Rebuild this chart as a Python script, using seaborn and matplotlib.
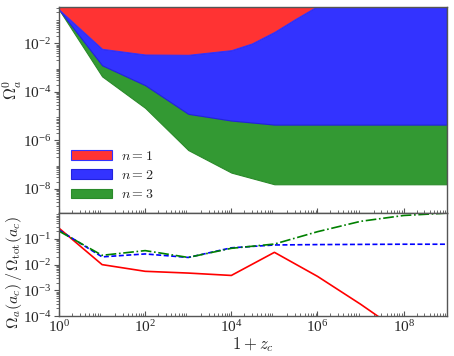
import numpy as np
import pandas as pd
import matplotlib
matplotlib.use("Agg")
import matplotlib.pyplot as plt
import seaborn as sns

# ---- data ----
zc1 = [1, 10, 100, 1e3, 1e4, 3e4, 1e5, 3e5, 1e6, 1e7, 1e8, 1e9]
omega_n1 = [0.25, 6e-3, 3.5e-3, 3.4e-3, 5.3e-3, 1.0e-2, 3.0e-2, 1.0e-1, 0.35, 2.0, 5.0, 10.0]

zc_top = [1, 10, 100, 1e3, 1e4, 1e5, 1e6, 1e7, 1e8, 1e9]
omega_n2 = [0.25, 1.26e-3, 1.9e-4, 1.25e-5, 6.6e-6, 4.5e-6, 4.5e-6, 4.5e-6, 4.5e-6, 4.5e-6]
omega_n3 = [0.25, 4.4e-4, 2.2e-5, 4.0e-7, 4.7e-8, 1.55e-8, 1.55e-8, 1.55e-8, 1.55e-8, 1.55e-8]

zc_bot = [1, 10, 100, 1e3, 1e4, 1e5, 1e6, 1e7, 1e8, 1e9]
frac_n1 = [0.26, 1.0e-2, 5.5e-3, 4.7e-3, 3.8e-3, 3.0e-2, 3.5e-3, 2.9e-4, 2.0e-5, 1.5e-6]
frac_n2 = [0.22, 2.0e-2, 2.6e-2, 1.9e-2, 4.5e-2, 5.8e-2, 6.0e-2, 6.1e-2, 6.2e-2, 6.2e-2]
frac_n3 = [0.20, 2.3e-2, 3.5e-2, 1.9e-2, 4.3e-2, 6.3e-2, 0.19, 0.48, 0.81, 1.0]

labels = [r"$n=1$", r"$n=2$", r"$n=3$"]
fill_colors = ["#ff3333", "#3333ff", "#339933"]
line_colors = ["#ff0000", "#0000ff", "#008000"]

# ---- style ----
sns.set_theme(style="ticks")
plt.rcParams["font.family"] = ["Liberation Serif", "DejaVu Serif"]
plt.rcParams["mathtext.fontset"] = "stix"
plt.rcParams["axes.edgecolor"] = "#555555"
plt.rcParams["axes.linewidth"] = 1.0

fig = plt.figure(figsize=(4.54, 3.56), dpi=100)
gs = fig.add_gridspec(2, 1, height_ratios=[2, 1], hspace=0,
                      left=0.130, right=0.984, top=0.980, bottom=0.112)
ax1 = fig.add_subplot(gs[0])
ax2 = fig.add_subplot(gs[1], sharex=ax1)

top_val = 1e3
ax1.fill_between(zc_top, omega_n3, omega_n2, color=fill_colors[2], lw=0.8,
                 edgecolor="#2a8a2a", label=labels[2])
grid = sorted(set(zc1) | set(zc_top))
lg = np.log10(grid)
n1g = 10 ** np.interp(lg, np.log10(zc1), np.log10(omega_n1))
n2g = 10 ** np.interp(lg, np.log10(zc_top), np.log10(omega_n2))
ax1.fill_between(grid, n2g, np.maximum(n1g, n2g), color=fill_colors[1], lw=0.8,
                 edgecolor="#2222dd", label=labels[1])
ax1.fill_between(zc1, omega_n1, top_val, color=fill_colors[0], lw=0.8,
                 edgecolor="#3333ff", label=labels[0])

ax1.set_xscale("log")
ax1.set_yscale("log")
ax1.set_xlim(1, 1e9)
ax1.set_ylim(1e-9, 10 ** -0.5)
ax1.set_yticks([1e-8, 1e-6, 1e-4, 1e-2])
ax1.set_ylabel(r"$\Omega_a^0$", fontsize=12, va="center", math_fontfamily="cm")
ax1.yaxis.set_label_coords(-0.12, 0.60)
h, l = ax1.get_legend_handles_labels()
order = [2, 1, 0]
leg = ax1.legend([h[i] for i in order], [l[i] for i in order], loc="lower left",
                 frameon=False, fontsize=10, handlelength=2.95, handleheight=0.7,
                 labelspacing=0.45, borderaxespad=0.45, handletextpad=0.65)
for t in leg.get_texts():
    t.set_math_fontfamily("cm")
plt.setp(ax1.get_xticklabels(), visible=False)

df = pd.concat([
    pd.DataFrame({"zc": zc_bot, "frac": frac_n1, "n": labels[0]}),
    pd.DataFrame({"zc": zc_bot, "frac": frac_n2, "n": labels[1]}),
    pd.DataFrame({"zc": zc_bot, "frac": frac_n3, "n": labels[2]}),
])
for lab, col, ls in zip(labels, line_colors, ["-", (0, (3, 1.5)), "-."]):
    sub = df[df["n"] == lab]
    sns.lineplot(data=sub, x="zc", y="frac", ax=ax2, color=col, lw=1.2,
                 linestyle=ls, legend=False)
ax2.set_xscale("log")
ax2.set_yscale("log")
ax2.set_xlim(1, 1e9)
ax2.set_ylim(1e-4, 1)
ax2.set_yticks([1e-4, 1e-3, 1e-2, 1e-1])
ax2.set_xticks([1, 1e2, 1e4, 1e6, 1e8])
ax2.set_xlabel(r"$1+z_c$", fontsize=12, labelpad=0, math_fontfamily="cm")
ax2.set_ylabel(r"$\Omega_a(a_c)\,/\,\Omega_{\rm tot}(a_c)$", fontsize=11.5, va="center",
               math_fontfamily="cm")
ax2.yaxis.set_label_coords(-0.115, 0.42)

for ax in (ax1, ax2):
    for s in ax.spines.values():
        s.set_visible(True)
        s.set_color("#555555")
    ax.tick_params(axis="both", which="major", labelsize=11, length=3.5, width=0.8,
                   color="#555555", pad=2)
    ax.tick_params(axis="both", which="minor", length=2, width=0.6, color="#555555")
    ax.tick_params(axis="x", which="both", direction="in")
    ax.tick_params(axis="y", which="both", direction="out")
    ax.xaxis.set_minor_locator(matplotlib.ticker.LogLocator(base=10, subs=np.arange(2, 10), numticks=20))
    ax.yaxis.set_minor_locator(matplotlib.ticker.LogLocator(base=10, subs=np.arange(2, 10), numticks=20))
    ax.yaxis.set_minor_formatter(matplotlib.ticker.NullFormatter())

fig.savefig("out.png", dpi=100)
